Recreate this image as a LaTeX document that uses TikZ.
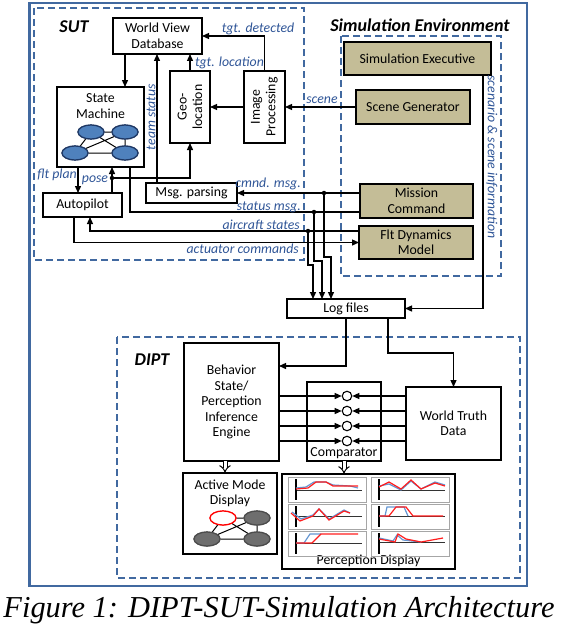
\documentclass[tikz,border=0pt]{standalone}
\usepackage{fontspec}
\setmainfont{Carlito}
\newfontfamily\capfont{Liberation Serif}
\usetikzlibrary{arrows.meta,shapes.geometric}
\definecolor{frameblue}{RGB}{65,105,160}
\definecolor{lblblue}{RGB}{47,85,151}
\definecolor{tanfill}{RGB}{196,189,151}
\definecolor{ellblue}{RGB}{79,129,189}
\definecolor{elledge}{RGB}{31,56,100}
\definecolor{ellgray}{RGB}{110,110,110}
\definecolor{plotred}{RGB}{255,30,30}
\definecolor{plotblue}{RGB}{100,150,210}
\newcommand{\dfont}{\fontsize{13.8}{15.5}\selectfont}
\newcommand{\pnl}[5]{%
 \begin{scope}[shift={(#1,#2)}]
  \draw[draw=gray!70, line width=0.9pt] (0,0) rectangle (78,25);
  \draw[draw=black!80, line width=1pt] (8,#3) -- (74,#3);
  \draw[line width=1.6pt] (8,2) -- (8,23);
  \draw[plotblue, line width=1.2pt] plot coordinates {#4};
  \draw[plotred, line width=1.2pt] plot coordinates {#5};
 \end{scope}}
\tikzset{
 box/.style={draw=black, line width=1.3pt, fill=white, align=center, inner sep=0pt, outer sep=0pt, font=\dfont},
 tanbox/.style={box, fill=tanfill},
 txt/.style={align=center, inner sep=0pt, font=\dfont},
 conn/.style={line width=1.3pt, draw=black},
 arr/.style={conn, -{Triangle[length=7pt,width=6pt]}},
 dblarr/.style={double, double distance=3pt, line width=1pt, -{Implies[length=4pt]}},
 lbl/.style={text=lblblue, font={\dfont\itshape}, inner sep=0pt},
 grp/.style={draw=frameblue, line width=2.5pt, dash pattern=on 7pt off 4pt},
 grplbl/.style={font={\fontsize{18}{20}\selectfont\bfseries\itshape}, inner sep=0pt},
 jdot/.style={circle, fill=black, inner sep=0pt, minimum size=4.5pt},
 ell/.style={ellipse, draw=elledge, line width=1.2pt, fill=ellblue, minimum width=26pt, minimum height=14pt, inner sep=0pt},
 gell/.style={ellipse, draw=black!70, line width=1.2pt, fill=ellgray, minimum width=26pt, minimum height=14pt, inner sep=0pt},
 cmp/.style={circle, draw=black, line width=1.1pt, fill=white, minimum size=9.5pt, inner sep=0pt},
}
\begin{document}
\begin{tikzpicture}[x=1pt,y=-1pt]
\useasboundingbox (0,0) rectangle (560,626);
% frames
\draw[frameblue, line width=2.5pt] (29.5,3) rectangle (527,586);
\draw[grp] (34,8) rectangle (304,260);
\draw[grp] (341,36) rectangle (501,276);
\draw[grp] (117,337) rectangle (520,578);
\node[grplbl] (sutl) at (74,27) {SUT};
\node[grplbl] (siml) at (420,25) {Simulation Environment};
\node[grplbl] (diptl) at (152,360) {DIPT};
% SUT boxes
\node[box, minimum width=89pt, minimum height=36pt] (wvd) at (157.5,36) {World View\\Database};
\node[box, minimum width=87pt, minimum height=80pt] (sm) at (100.5,127) {};
\node[txt] (smt) at (100.5,106) {State\\Machine};
\node[box, minimum width=40pt, minimum height=72pt] (geo) at (190,107) {};
\node[txt, rotate=90] (geot) at (190,107) {Geo-\\location};
\node[box, minimum width=41pt, minimum height=72pt] (img) at (264.5,107) {};
\node[txt, rotate=90] (imgt) at (264.5,107) {Image\\Processing};
\node[box, minimum width=91pt, minimum height=20pt] (msg) at (191.5,193) {Msg. parsing};
\node[box, minimum width=79pt, minimum height=24pt] (ap) at (82.5,205) {Autopilot};
% state machine graph
\node[ell] (s1) at (91,132) {};
\node[ell] (s2) at (125,132) {};
\node[ell] (s3) at (75,153) {};
\node[ell] (s4) at (125,153) {};
% simulation boxes
\node[tanbox, minimum width=147pt, minimum height=33pt] (se) at (417.5,58.5) {Simulation Executive};
\node[tanbox, minimum width=114pt, minimum height=34pt] (sg) at (413,107) {Scene Generator};
\node[tanbox, minimum width=113pt, minimum height=34pt] (mc) at (416.5,201) {Mission\\Command};
\node[tanbox, minimum width=114pt, minimum height=33pt] (fd) at (416,242.5) {Flt Dynamics\\Model};
% log + DIPT
\node[box, minimum width=118pt, minimum height=19pt] (log) at (346,308.5) {Log files};
\node[box, minimum width=95pt, minimum height=118pt] (beh) at (231.5,402) {Behavior\\State/\\Perception\\Inference\\Engine};
\node[box, minimum width=74pt, minimum height=79pt] (comp) at (344,421.5) {};
\node[txt] (compt) at (344,453) {Comparator};
\node[box, minimum width=95pt, minimum height=73pt] (wtd) at (453.5,423.5) {World Truth\\Data};
\node[box, minimum width=94pt, minimum height=81pt] (am) at (230,513.5) {};
\node[txt] (amt) at (230,493.5) {Active Mode\\Display};
\node[box, minimum width=173pt, minimum height=95pt] (per) at (368.5,521.5) {};
\node[txt] (pert) at (368.5,561) {Perception Display};
% coordinates
\coordinate (c125) at (125,0);
\coordinate (c157) at (157,0);
\coordinate (c78) at (78,0);
\coordinate (c112) at (112,0);
\coordinate (c130) at (130,0);
\coordinate (c90) at (90,0);
\coordinate (c74) at (74,0);
\coordinate (c484) at (483,0);
\coordinate (c225) at (225,0);
\coordinate (posej) at (112,178);
\coordinate (statj) at (314,212);
\coordinate (cmndj) at (324,193);
\coordinate (acj) at (308,231);
\coordinate (j1a) at (308,265);
\coordinate (j1b) at (313,265);
\coordinate (j2a) at (314,261);
\coordinate (j2b) at (322,261);
\coordinate (j3a) at (324,257);
\coordinate (j3b) at (331,257);
\coordinate (lb) at (346,366);
\coordinate (lw) at (388,353);
% graph edges in state machine
\draw[line width=1pt] (s1) -- (s2) (s2) -- (s4) (s3) -- (s4) (s1) -- (s3) (s1) -- (s4) (s3) -- (s2);
\node[ell] at (s1) {};
\node[ell] at (s2) {};
\node[ell] at (s3) {};
\node[ell] at (s4) {};
% SUT connectors
\draw[arr] (wvd.south -| c125) -- (sm.north -| c125);
\draw[arr] (msg.north -| c157) -- (wvd.south -| c157);
\draw[arr] (geo.north) -- (wvd.south -| geo.north);
\draw[arr] (img.north) |- (wvd.east);
\draw[arr] (img.west) -- (geo.east);
\draw[arr] (sg.west) -- (img.east);
\draw[arr] (sm.south -| c78) -- (ap.north -| c78);
\draw[arr] (ap.north -| c112) -- (sm.south -| c112);
\draw[arr] (posej) -| (geo.south);
\node[jdot] (pd) at (posej) {};
\draw[conn] (sm.south -| c130) |- (mc.west |- statj);
\draw[arr] (mc.west |- cmndj) -- (msg.east);
\draw[arr] (fd.west |- acj) -| (ap.south -| c90);
\draw[arr] (ap.south -| c74) |- (fd.west);
% to log files
\draw[arr] (acj) -- (j1a) -- (j1b) -- (log.north -| j1b);
\draw[arr] (statj) -- (j2a) -- (j2b) -- (log.north -| j2b);
\draw[arr] (cmndj) -- (j3a) -- (j3b) -- (log.north -| j3b);
\node[jdot] (d1) at (acj) {};
\node[jdot] (d2) at (statj) {};
\node[jdot] (d3) at (cmndj) {};
\draw[arr] (se.south -| c484) |- (log.east);
\draw[arr] (log.south -| lb) -- (lb) -- (beh.east |- lb);
\draw[arr] (log.south -| lw) -- (lw) -| (wtd.north);
% labels
\node[lbl] (l1) at (258,29) {tgt. detected};
\node[lbl, anchor=west] (l2) at (195,63) {tgt. location};
\node[lbl, rotate=90] (l3) at (151,117) {team status};
\node[lbl] (l4) at (322,100) {scene};
\node[lbl] (l5) at (57,175) {flt plan};
\node[lbl] (l6) at (95,180) {pose};
\node[lbl, anchor=east] (l7) at (301,184) {cmnd. msg.};
\node[lbl, anchor=east] (l8) at (301,207) {status msg.};
\node[lbl, anchor=east] (l9) at (300,225) {aircraft states};
\node[lbl, anchor=east] (l10) at (299,249) {actuator commands};
\node[lbl, rotate=-90, anchor=south] (l11) at (486,157) {scenario \& scene information};
% comparator
\foreach \i/\yy in {1/396,2/411,3/426,4/441}{
  \node[cmp] (k\i) at (347,\yy) {};
  \draw[arr] (beh.east |- k\i) -- (k\i.west);
  \draw[arr] (wtd.west |- k\i) -- (k\i.east);
}
% double arrows
\draw[dblarr] (beh.south -| c225) -- (am.north -| c225);
\draw[dblarr] (comp.south) -- (per.north -| comp.south);
% active mode graph
\node[ell, fill=white, draw=red] (a1) at (223,518) {};
\node[gell] (a2) at (257,518) {};
\node[gell] (a3) at (207,539) {};
\node[gell] (a4) at (257,539) {};
\draw[line width=1pt] (a1) -- (a2) (a2) -- (a4) (a3) -- (a4) (a1) -- (a3) (a1) -- (a4) (a3) -- (a2);
\node[ell, fill=white, draw=red] at (a1) {};
\node[gell] at (a2) {};
\node[gell] at (a3) {};
\node[gell] at (a4) {};
% perception panels
\pnl{288}{477}{13}{(8,11) (18,10) (26,5) (38,5) (45,8) (62,9) (70,11)}{(8,12) (20,11) (28,5) (38,5) (45,9) (62,9) (70,9)}
\pnl{371}{477}{13}{(8,9) (18,7) (30,13) (40,4) (50,12) (64,5) (74,8)}{(8,10) (18,5) (30,12) (40,3) (50,12) (64,6) (74,9)}
\pnl{288}{504}{12}{(4,8) (13,15) (25,11) (31,5) (41,15) (56,6) (62,9)}{(3,9) (12,17) (25,12) (31,5) (41,16) (56,7) (62,9)}
\pnl{371}{504}{12}{(8,12) (14,12) (16,3) (33,3) (37,12)}{(8,12) (18,12) (25,3) (35,3) (42,12) (72,12)}
\pnl{288}{531}{12}{(8,12) (16,12) (22,3) (33,3)}{(8,12) (24,12) (33,3) (70,3)}
\pnl{371}{531}{11}{(8,7) (22,10) (26,4) (32,9) (50,11)}{(8,8) (24,11) (27,3) (35,8) (50,11) (72,7)}
% caption
\node[font={\capfont\itshape\fontsize{30.4}{32}\selectfont}, anchor=base, inner sep=0pt] (cap) at (279,617) {Figure 1: DIPT-SUT-Simulation Architecture};
\end{tikzpicture}
\end{document}
